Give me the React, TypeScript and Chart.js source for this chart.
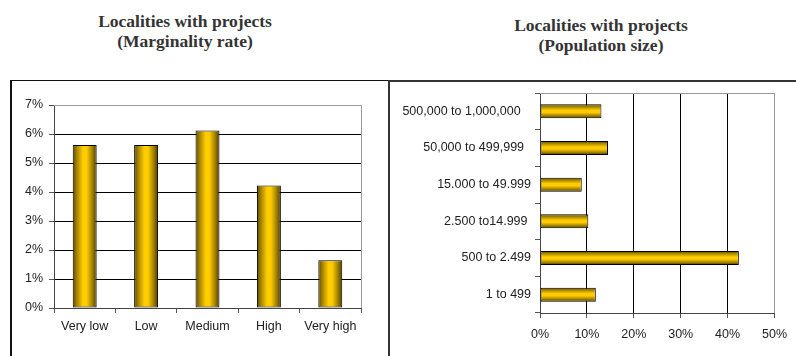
import React, { useEffect, useRef } from "react";
import { Chart, registerables } from "chart.js";

Chart.register(...registerables);

const marginalityLabels = ["Very low", "Low", "Medium", "High", "Very high"];
const marginalityValues = [5.62, 5.62, 6.12, 4.22, 1.65];
const marginalityTicks = [0, 1, 2, 3, 4, 5, 6, 7];

const populationLabels = [
  "500,000 to 1,000,000   ",
  "50,000 to 499,999  ",
  "15.000 to 49.999",
  "2.500 to14.999 ",
  "500 to 2.499",
  "1 to 499",
];
const populationValues = [13.1, 14.5, 8.9, 10.3, 42.4, 11.9];
const populationTicks = [0, 10, 20, 30, 40, 50];

const LEFT_BAR_PCT = 0.39;
const RIGHT_BAR_PCT = 0.38;
const TICK_FONT = { family: "'Liberation Sans', Arial, sans-serif", size: 12.5 };
const TICK_COLOR = "#222";

function makeGradient(ctx: CanvasRenderingContext2D, a: number, b: number, horizontal: boolean) {
  const g = horizontal ? ctx.createLinearGradient(0, a, 0, b) : ctx.createLinearGradient(a, 0, b, 0);
  g.addColorStop(0, "#5e4b00");
  g.addColorStop(0.18, "#a88700");
  g.addColorStop(0.42, "#ffcc00");
  g.addColorStop(0.58, "#ffcc00");
  g.addColorStop(0.82, "#a08000");
  g.addColorStop(1, "#4a3b00");
  return g;
}

const plotFrame = {
  id: "plotFrame",
  afterDraw(chart: any) {
    const { ctx, chartArea } = chart;
    ctx.save();
    ctx.strokeStyle = "#9a9a9a";
    ctx.lineWidth = 1;
    ctx.beginPath();
    ctx.moveTo(chartArea.left, Math.round(chartArea.top) + 0.5);
    ctx.lineTo(Math.round(chartArea.right) + 0.5, Math.round(chartArea.top) + 0.5);
    ctx.lineTo(Math.round(chartArea.right) + 0.5, chartArea.bottom);
    ctx.stroke();
    ctx.restore();
  },
};

export default function App() {
  const leftRef = useRef<HTMLCanvasElement>(null);
  const rightRef = useRef<HTMLCanvasElement>(null);

  useEffect(() => {
    const left = new Chart(leftRef.current!, {
      type: "bar",
      data: {
        labels: marginalityLabels,
        datasets: [
          {
            data: marginalityValues,
            borderColor: "#000",
            borderWidth: 1,
            borderSkipped: false,
            categoryPercentage: 1,
            barPercentage: LEFT_BAR_PCT,
            backgroundColor: (c: any) => {
              const chart = c.chart;
              if (!chart.chartArea || c.dataIndex === undefined) return "#ffcc00";
              const s = chart.scales.x;
              const center = s.getPixelForValue(c.dataIndex);
              const half = ((s.width / marginalityLabels.length) * LEFT_BAR_PCT) / 2;
              return makeGradient(chart.ctx, center - half, center + half, false);
            },
          },
        ],
      },
      options: {
        responsive: false,
        animation: false,
        layout: { padding: { left: 11, right: 26, top: 105, bottom: 18 } },
        plugins: { legend: { display: false }, tooltip: { enabled: false } },
        scales: {
          x: {
            afterFit: (s: any) => {
              s.height = 30;
            },
            grid: { offset: true, drawOnChartArea: false, tickLength: 5, color: "#555", tickColor: "#555" },
            border: { color: "#444", width: 1 },
            ticks: { font: TICK_FONT, color: TICK_COLOR, padding: 6, maxRotation: 0 },
          },
          y: {
            min: 0,
            max: 7,
            afterFit: (s: any) => {
              s.width = 43;
            },
            afterBuildTicks: (s: any) => {
              s.ticks = marginalityTicks.map((v) => ({ value: v }));
            },
            grid: {
              tickLength: 5,
              color: (c: any) => (c.tick && c.tick.value === 7 ? "#9a9a9a" : "#000"),
              tickColor: "#555",
            },
            border: { color: "#444", width: 1 },
            ticks: {
              font: TICK_FONT,
              color: TICK_COLOR,
              padding: 6,
              callback: (v: any) => v + "%",
            },
          },
        },
      },
      plugins: [plotFrame],
    });

    const right = new Chart(rightRef.current!, {
      type: "bar",
      data: {
        labels: populationLabels,
        datasets: [
          {
            data: populationValues,
            borderColor: "#000",
            borderWidth: 1,
            borderSkipped: false,
            categoryPercentage: 1,
            barPercentage: RIGHT_BAR_PCT,
            backgroundColor: (c: any) => {
              const chart = c.chart;
              if (!chart.chartArea || c.dataIndex === undefined) return "#ffcc00";
              const s = chart.scales.y;
              const center = s.getPixelForValue(c.dataIndex);
              const half = ((s.height / populationLabels.length) * RIGHT_BAR_PCT) / 2;
              return makeGradient(chart.ctx, center - half, center + half, true);
            },
          },
        ],
      },
      options: {
        indexAxis: "y",
        responsive: false,
        animation: false,
        layout: { padding: { left: 0, right: 12, top: 93, bottom: 13 } },
        plugins: { legend: { display: false }, tooltip: { enabled: false } },
        scales: {
          x: {
            min: 0,
            max: 50,
            afterFit: (s: any) => {
              s.height = 30;
            },
            afterBuildTicks: (s: any) => {
              s.ticks = populationTicks.map((v) => ({ value: v }));
            },
            grid: {
              tickLength: 5,
              color: (c: any) => (c.tick && c.tick.value === 50 ? "#9a9a9a" : "#000"),
              tickColor: "#555",
            },
            border: { color: "#444", width: 1 },
            ticks: {
              font: TICK_FONT,
              color: TICK_COLOR,
              padding: 9,
              maxRotation: 0,
              callback: (v: any) => v + "%",
            },
          },
          y: {
            afterFit: (s: any) => {
              s.width = 150;
            },
            grid: { offset: true, drawOnChartArea: false, tickLength: 5, color: "#555", tickColor: "#555" },
            border: { color: "#444", width: 1 },
            ticks: { font: TICK_FONT, color: TICK_COLOR, padding: 4 },
          },
        },
      },
      plugins: [plotFrame],
    });

    return () => {
      left.destroy();
      right.destroy();
    };
  }, []);

  const titleStyle: React.CSSProperties = {
    position: "absolute",
    width: 260,
    textAlign: "center",
    fontFamily: "'Liberation Serif', 'Times New Roman', serif",
    fontWeight: "bold",
    fontSize: 17.5,
    lineHeight: "20px",
    color: "#333",
    whiteSpace: "nowrap",
  };

  return (
    <div
      style={{
        position: "fixed",
        left: 0,
        top: 0,
        width: 796,
        height: 356,
        overflow: "hidden",
        background: "#fff",
      }}
    >
      <div style={{ ...titleStyle, left: 55, top: 10.5 }}>
        Localities with projects
        <br />
        (Marginality rate)
      </div>
      <div style={{ ...titleStyle, left: 471, top: 14.5 }}>
        Localities with projects
        <br />
        (Population size)
      </div>
      <div
        style={{
          position: "absolute",
          left: 10,
          top: 80,
          width: 376,
          height: 320,
          border: "1px solid #111",
          borderLeftWidth: 2,
          boxSizing: "content-box",
        }}
      />
      <div
        style={{
          position: "absolute",
          left: 388,
          top: 80,
          width: 420,
          height: 320,
          border: "2px solid #333",
        }}
      />
      <canvas
        ref={leftRef}
        width={387}
        height={356}
        style={{ position: "absolute", left: 0, top: 0, width: 387, height: 356, display: "block" }}
      />
      <canvas
        ref={rightRef}
        width={406}
        height={356}
        style={{ position: "absolute", left: 390, top: 0, width: 406, height: 356, display: "block" }}
      />
    </div>
  );
}
